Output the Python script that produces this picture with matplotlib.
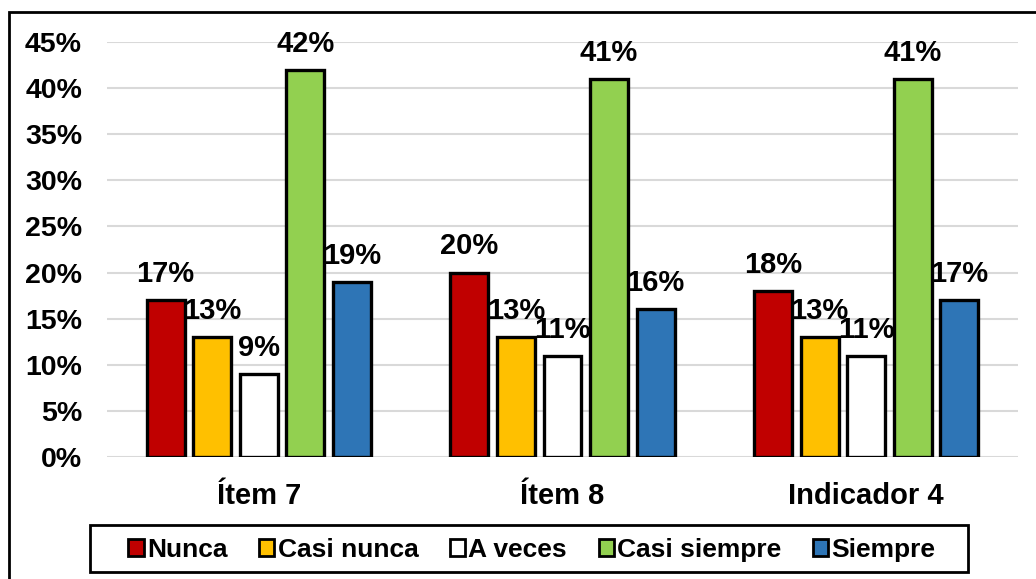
import matplotlib.pyplot as plt
import numpy as np
from matplotlib.patches import Rectangle

# data
groups = ["Ítem 7", "Ítem 8", "Indicador 4"]
series = ["Nunca", "Casi nunca", "A veces", "Casi siempre", "Siempre"]
nunca = [17, 20, 18]
casi_nunca = [13, 13, 13]
a_veces = [9, 11, 11]
casi_siempre = [42, 41, 41]
siempre = [19, 16, 17]
values = [nunca, casi_nunca, a_veces, casi_siempre, siempre]
colors = ["#C00000", "#FFC000", "#FFFFFF", "#92D050", "#2E75B6"]

plt.rcParams['font.family'] = ['Liberation Sans', 'DejaVu Sans']
plt.rcParams['font.weight'] = 'bold'

fig = plt.figure(figsize=(10.36, 5.79), dpi=100)
W, H = 1036, 579
ax = fig.add_axes([107 / W, 1 - 457 / H, (1018 - 107) / W, (457 - 42) / H])

x = np.arange(len(groups))
step = 0.1535
width = 0.125
for i, (name, vals, c) in enumerate(zip(series, values, colors)):
    pos = x + (i - 2) * step
    bars = ax.bar(pos, vals, width, color=c, edgecolor="black", linewidth=2.4,
                  label=name, zorder=3)
    for b, v in zip(bars, vals):
        ax.annotate(f"{v}%", (b.get_x() + b.get_width() / 2, v),
                    xytext=(0, 13), textcoords="offset points",
                    ha="center", va="baseline", fontsize=21, fontweight="bold")

ax.set_xlim(-0.5, 2.5)
ax.set_ylim(0, 45)
ax.set_yticks(np.arange(0, 46, 5))
ax.set_yticklabels([f"{t}%" for t in range(0, 46, 5)], fontsize=20.5, fontweight="bold")
ax.set_xticks(x)
ax.set_xticklabels(groups, fontsize=21, fontweight="bold")
ax.tick_params(length=0)
ax.tick_params(axis="x", pad=18)
ax.tick_params(axis="y", pad=18)
ax.grid(axis="y", color="#D9D9D9", linewidth=1.5, zorder=0)
for s in ax.spines.values():
    s.set_visible(False)

leg = fig.legend(loc="center", bbox_to_anchor=(532 / W, 1 - 550 / H), ncol=5,
                 frameon=False,
                 prop={"family": ["Liberation Sans"], "weight": "bold", "size": 19},
                 handlelength=0.58, handleheight=0.58, handletextpad=0.12,
                 columnspacing=1.2)
for h in leg.legend_handles:
    h.set_linewidth(2)

# legend frame and outer border of the chart area
fig.patches.append(Rectangle((90 / W, 1 - 572 / H), (968 - 90) / W, 47 / H,
                             transform=fig.transFigure, fill=False,
                             edgecolor="black", linewidth=2, zorder=10))
fig.patches.append(Rectangle((9 / W, -0.1), 1.2, 1 - 12 / H + 0.1,
                             transform=fig.transFigure, fill=False,
                             edgecolor="black", linewidth=2, zorder=10))

fig.savefig("out.png", dpi=100)
